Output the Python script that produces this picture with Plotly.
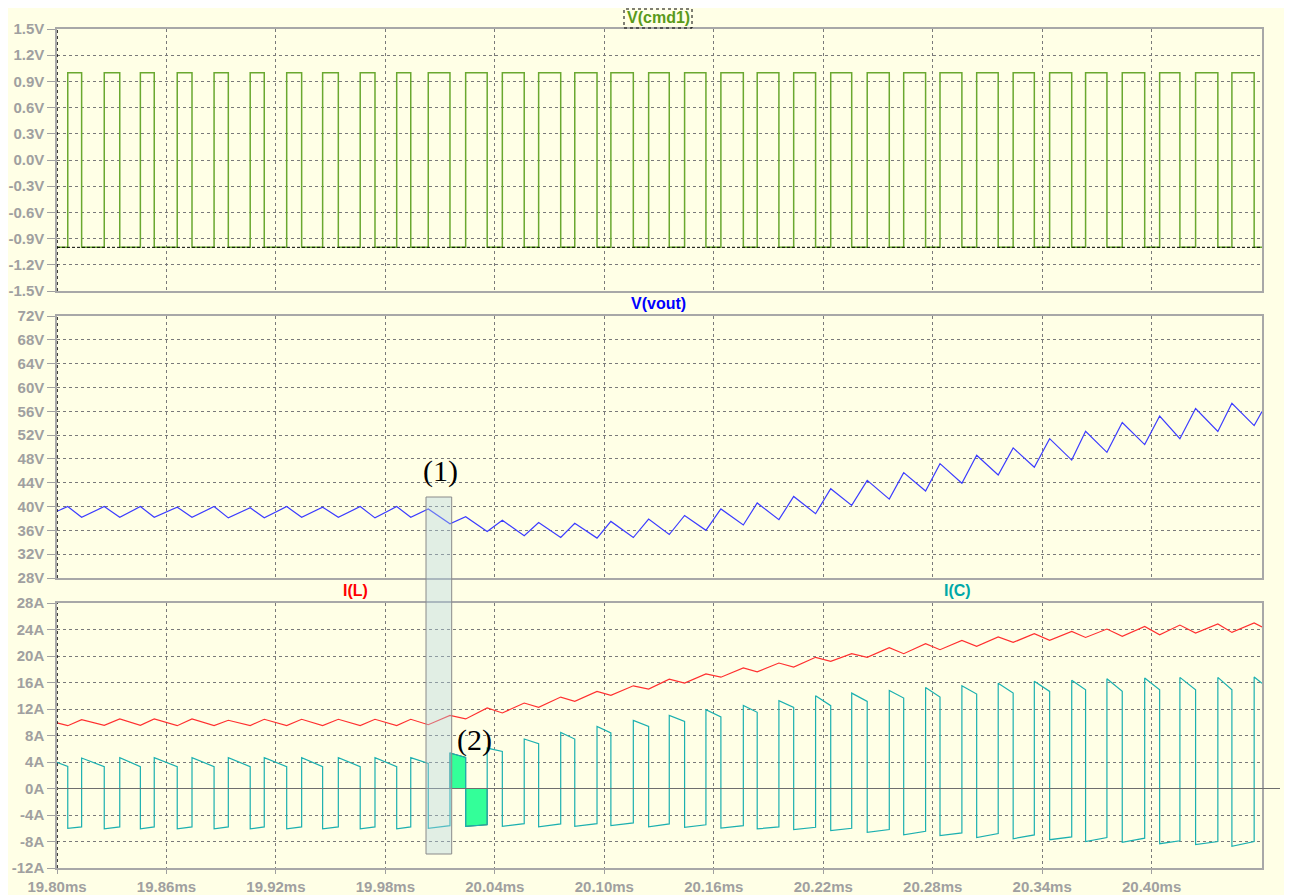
import plotly.graph_objects as go

# ---------------- data ----------------
t_start = 19.80
t_end = 20.4605

# switching edges of V(cmd1), ms
t_rise = [19.8059, 19.8259, 19.8457, 19.8659, 19.8861, 19.9059, 19.9259, 19.9456, 19.9662, 19.9862,
          20.0035, 20.0240, 20.0441, 20.0640, 20.0838, 20.1036, 20.1243, 20.1440, 20.1639, 20.1838,
          20.2038, 20.2241, 20.2441, 20.2641, 20.2840, 20.3041, 20.3241, 20.3441, 20.3638, 20.3839,
          20.4044, 20.4241, 20.4440]
t_fall = [19.8135, 19.8344, 19.8533, 19.8740, 19.8939, 19.9136, 19.9341, 19.9542, 19.9743, 19.9939,
          20.0154, 20.0358, 20.0561, 20.0761, 20.0960, 20.1159, 20.1356, 20.1557, 20.1762, 20.1957,
          20.2158, 20.2356, 20.2562, 20.2761, 20.2960, 20.3159, 20.3357, 20.3562, 20.3755, 20.3962,
          20.4155, 20.4363, 20.4562]
cmd_high = 1.0
cmd_low = -1.0

# V(vout) at each rising / falling edge
vout_start, vout_end = 39.2, 55.95
vout_rise = [40.0, 40.0, 40.0, 39.9, 40.0, 39.8, 40.0, 39.9, 40.0, 40.0,
             39.6, 38.3, 37.7, 37.3, 37.2, 37.5, 37.9, 38.5, 39.6, 40.6, 41.7, 43.0,
             44.4, 45.7, 47.2, 48.6, 49.85, 51.4, 52.65, 54.1, 55.2, 56.45, 57.35]
vout_fall = [38.2, 38.2, 38.2, 38.2, 38.1, 38.1, 38.2, 38.2, 38.1, 38.2,
             37.1, 35.8, 35.1, 34.8, 34.7, 34.8, 35.3, 36.0, 36.9, 37.8, 38.8, 40.2,
             41.25, 42.6, 43.9, 45.3, 46.6, 47.8, 49.1, 50.4, 51.4, 52.6, 53.6]

# I(L) at each rising / falling edge
il_start, il_end = 9.9, 24.4
il_rise = [9.48, 9.53, 9.53, 9.48, 9.5, 9.5, 9.5, 9.5, 9.5, 9.5,
           9.63, 10.5, 11.4, 12.24, 13.15, 14.05, 15.0, 15.9, 16.8, 17.6, 18.34, 19.2,
           19.8, 20.35, 20.95, 21.45, 22.05, 22.36, 22.8, 22.96, 23.2, 23.47, 23.56]
il_fall = [10.4, 10.5, 10.5, 10.5, 10.3, 10.45, 10.45, 10.45, 10.45, 10.45,
           11.03, 12.15, 12.9, 13.8, 14.66, 15.5, 16.5, 17.3, 18.2, 18.94, 19.8, 20.35,
           21.25, 21.85, 22.36, 22.87, 23.37, 23.7, 24.07, 24.47, 24.67, 24.83, 24.98]

# I(C): value before rise, after rise, before fall, after fall
ic_start, ic_end = 3.94, 15.9
ic_pos_end = [3.34, 3.3, 3.3, 3.3, 3.3, 3.3, 3.3, 3.3, 3.3, 3.3,
              3.8, 4.7, 5.6, 6.76, 7.47, 8.38, 9.37, 10.13, 10.8, 11.5, 12.24, 12.5,
              13.15, 13.66, 13.8, 14.26, 14.4, 14.66, 14.9, 14.66, 14.9, 14.9, 14.9]
ic_neg_start = [-6.0, -6.1, -6.1, -6.1, -6.1, -6.1, -6.1, -6.1, -6.1, -6.1,
                -6.0, -5.72, -5.72, -5.8, -5.72, -5.6, -5.8, -5.85, -5.96, -6.1, -6.2, -6.37,
                -6.6, -7.0, -7.1, -7.4, -7.58, -7.73, -8.0, -8.13, -8.33, -8.48, -8.73]
ic_neg_end = [-5.8, -5.8, -5.8, -5.8, -5.8, -5.8, -5.8, -5.8, -5.8, -5.8,
              -5.6, -5.47, -5.3, -5.35, -5.3, -5.2, -5.35, -5.47, -5.6, -5.8, -5.85, -6.0,
              -6.2, -6.47, -6.7, -6.8, -7.0, -7.3, -7.4, -7.5, -7.9, -8.0, -8.0]
ic_pos_start = [4.6, 4.65, 4.65, 4.65, 4.65, 4.65, 4.65, 4.65, 4.65, 4.65,
                5.36, 6.1, 7.47, 8.47, 9.37, 10.28, 11.03, 11.9, 12.55, 13.26, 14.0, 14.4,
                14.8, 15.26, 15.5, 15.9, 16.17, 16.33, 16.57, 16.68, 16.77, 16.77, 16.83]

x_ticks = [19.80, 19.86, 19.92, 19.98, 20.04, 20.10, 20.16, 20.22, 20.28, 20.34, 20.40]
x_labels = ["19.80ms", "19.86ms", "19.92ms", "19.98ms", "20.04ms", "20.10ms",
            "20.16ms", "20.22ms", "20.28ms", "20.34ms", "20.40ms"]
y1_ticks = [-1.5, -1.2, -0.9, -0.6, -0.3, 0.0, 0.3, 0.6, 0.9, 1.2, 1.5]
y1_labels = ["-1.5V", "-1.2V", "-0.9V", "-0.6V", "-0.3V", "0.0V", "0.3V", "0.6V", "0.9V", "1.2V", "1.5V"]
y2_ticks = [28, 32, 36, 40, 44, 48, 52, 56, 60, 64, 68, 72]
y2_labels = ["28V", "32V", "36V", "40V", "44V", "48V", "52V", "56V", "60V", "64V", "68V", "72V"]
y3_ticks = [-12, -8, -4, 0, 4, 8, 12, 16, 20, 24, 28]
y3_labels = ["-12A", "-8A", "-4A", "0A", "4A", "8A", "12A", "16A", "20A", "24A", "28A"]

# ---------------- build series ----------------
cmd_x, cmd_y = [t_start], [cmd_low]
vo_x, vo_y = [t_start], [vout_start]
il_x, il_y = [t_start], [il_start]
ic_x, ic_y = [t_start], [ic_start]
for k in range(len(t_rise)):
    r, f = t_rise[k], t_fall[k]
    cmd_x += [r, r, f, f]
    cmd_y += [cmd_low, cmd_high, cmd_high, cmd_low]
    vo_x += [r, f]
    vo_y += [vout_rise[k], vout_fall[k]]
    il_x += [r, f]
    il_y += [il_rise[k], il_fall[k]]
    ic_x += [r, r, f, f]
    ic_y += [ic_pos_end[k], ic_neg_start[k], ic_neg_end[k], ic_pos_start[k]]
cmd_x.append(t_end); cmd_y.append(cmd_low)
vo_x.append(t_end); vo_y.append(vout_end)
il_x.append(t_end); il_y.append(il_end)
ic_x.append(t_end); ic_y.append(ic_end)

BG = "#FFFFE6"
GRID = "#7A7A7A"
TICK = "#A0A0A0"
FONT = "Liberation Sans, Arial, sans-serif"

fig = go.Figure()

# highlighted areas (2)
k = 10
fig.add_trace(go.Scatter(
    x=[t_fall[k], t_fall[k], t_rise[k + 1], t_rise[k + 1], t_fall[k]],
    y=[0, ic_pos_start[k], ic_pos_end[k + 1], 0, 0],
    fill="toself", fillcolor="#33FF99", mode="lines",
    line=dict(color="#4a6a5a", width=1), xaxis="x3", yaxis="y3", hoverinfo="skip"))
fig.add_trace(go.Scatter(
    x=[t_rise[k + 1], t_rise[k + 1], t_fall[k + 1], t_fall[k + 1], t_rise[k + 1]],
    y=[0, ic_neg_start[k + 1], ic_neg_end[k + 1], 0, 0],
    fill="toself", fillcolor="#33FF99", mode="lines",
    line=dict(color="#4a6a5a", width=1), xaxis="x3", yaxis="y3", hoverinfo="skip"))

fig.add_trace(go.Scatter(x=cmd_x, y=cmd_y, mode="lines", line=dict(color="#6AA830", width=1.5),
                         xaxis="x", yaxis="y", name="V(cmd1)"))
fig.add_trace(go.Scatter(x=vo_x, y=vo_y, mode="lines", line=dict(color="#3C3CFF", width=1.2),
                         xaxis="x2", yaxis="y2", name="V(vout)"))
fig.add_trace(go.Scatter(x=il_x, y=il_y, mode="lines", line=dict(color="#FF3030", width=1.2),
                         xaxis="x3", yaxis="y3", name="I(L)"))
fig.add_trace(go.Scatter(x=ic_x, y=ic_y, mode="lines", line=dict(color="#1CB0B0", width=1.2),
                         xaxis="x3", yaxis="y3", name="I(C)"))

# ---------------- layout ----------------
# the page places the figure 8 px from the top-left corner of the window
OFF = 8
W, H = 1292 - OFF, 895 - OFF
L, R, T, B = 57 - OFF, 1292 - 1262, 29 - OFF, 895 - 868
PW, PH = W - L - R, H - T - B


def px_x(px):
    return (px - OFF - L) / PW


def px_y(py):
    return (H - B - (py - OFF)) / PH


common_x = dict(range=[t_start, t_end], showgrid=True, gridcolor=GRID, gridwidth=1,
                griddash="3px,3px", tickvals=x_ticks, showline=True, linecolor="#A8A8A8",
                linewidth=1.5, mirror=True, zeroline=False, automargin=False)
common_y = dict(showgrid=True, gridcolor=GRID, gridwidth=1, griddash="3px,3px",
                showline=True, linecolor="#A8A8A8", linewidth=1.5, mirror=True, zeroline=False,
                ticks="outside", ticklen=8, tickcolor=TICK, tickwidth=1, automargin=False,
                tickfont=dict(family=FONT, size=15, color=TICK, weight="bold"))

d1 = [px_y(291), px_y(29)]
d2 = [px_y(578), px_y(316)]
d3 = [px_y(868), px_y(603)]

fig.update_layout(
    width=W, height=H,
    margin=dict(l=L, r=R, t=T, b=B, autoexpand=False),
    paper_bgcolor=BG, plot_bgcolor=BG, showlegend=False,
    xaxis=dict(**common_x, anchor="y", showticklabels=False, ticks=""),
    xaxis2=dict(**common_x, anchor="y2", matches="x", showticklabels=False, ticks=""),
    xaxis3=dict(**common_x, anchor="y3", matches="x", ticktext=x_labels, ticks="outside", ticklen=4,
                tickcolor=TICK, tickfont=dict(family=FONT, size=15, color=TICK, weight="bold")),
    yaxis=dict(**common_y, domain=d1, range=[-1.5, 1.5], tickvals=y1_ticks, ticktext=y1_labels, anchor="x"),
    yaxis2=dict(**common_y, domain=d2, range=[28, 72], tickvals=y2_ticks, ticktext=y2_labels, anchor="x2"),
    yaxis3=dict(**common_y, domain=d3, range=[-12, 28], tickvals=y3_ticks, ticktext=y3_labels, anchor="x3"),
)

shapes = []
# dark dotted left lines
for ya in ["y", "y2", "y3"]:
    shapes.append(dict(type="line", xref="x", yref=ya + " domain", x0=t_start, x1=t_start, y0=0, y1=1,
                       line=dict(color="black", width=1.5, dash="dot")))
# black dashed at low level of V(cmd1)
shapes.append(dict(type="line", xref="x", yref="y", x0=t_start, x1=t_end, y0=cmd_low, y1=cmd_low,
                   line=dict(color="black", width=1, dash="3px,2px")))
# zero line of the current pane
shapes.append(dict(type="line", xref="paper", yref="y3", x0=0, x1=px_x(1280), y0=0, y1=0,
                   line=dict(color="#6E6E6E", width=1.2)))
# dotted box around V(cmd1)
shapes.append(dict(type="rect", xref="paper", yref="paper", x0=px_x(624), x1=px_x(692),
                   y0=px_y(28), y1=px_y(9), line=dict(color="black", width=1, dash="dot")))
# highlight box (1)
shapes.append(dict(type="rect", xref="paper", yref="paper", x0=px_x(426), x1=px_x(451.7),
                   y0=px_y(854), y1=px_y(497), fillcolor="rgba(175,210,225,0.38)",
                   line=dict(color="#8A8A8A", width=1)))
fig.update_layout(shapes=shapes)

ann = []


def label(text, px, py, color, size=16, family=FONT, bold=True):
    ann.append(dict(text=f"<b>{text}</b>" if bold else text, xref="paper", yref="paper",
                    x=px_x(px), y=px_y(py), showarrow=False, xanchor="center", yanchor="middle",
                    font=dict(family=family, size=size, color=color)))


label("V(cmd1)", 658, 18, "#5A9A1A")
label("V(vout)", 658, 303, "#0000FF")
label("I(L)", 355, 591, "#FF0000")
label("I(C)", 957, 591, "#00A8A8")
label("(1)", 440, 471, "black", size=30, family="Liberation Serif, Times New Roman, serif", bold=False)
label("(2)", 474, 740, "black", size=30, family="Liberation Serif, Times New Roman, serif", bold=False)
fig.update_layout(annotations=ann)

fig.write_html("out.html")
